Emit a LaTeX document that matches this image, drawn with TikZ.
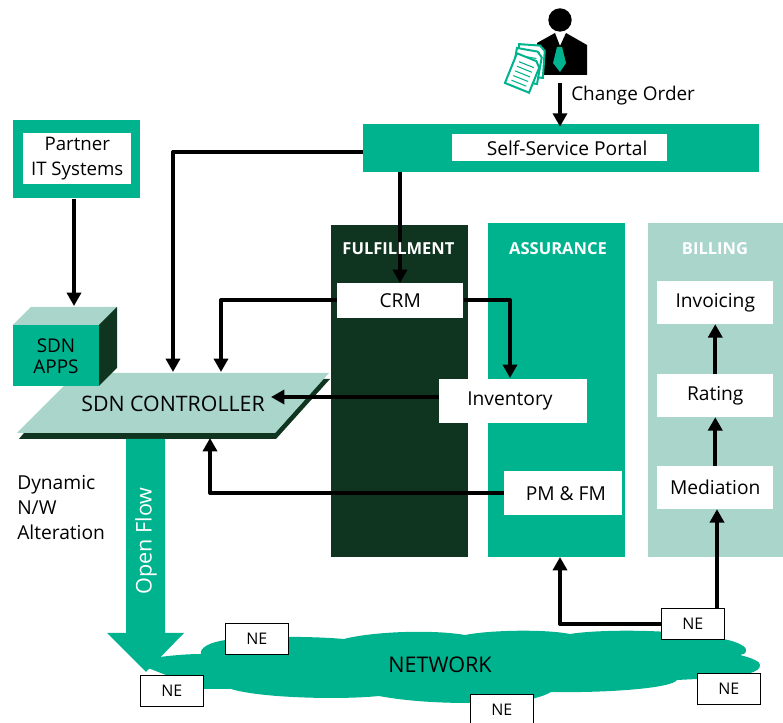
\documentclass[tikz,border=0pt]{standalone}
\usepackage{fontspec}
\setmainfont{Open Sans}
\usetikzlibrary{arrows.meta,calc,positioning}
\definecolor{grn}{HTML}{00B38F}
\definecolor{lgt}{HTML}{A9D5CA}
\definecolor{drk}{HTML}{0F3420}
\newcommand{\dn}[2]{\raisebox{-#1pt}{#2}}
\tikzset{
  x=0.75pt,y=-0.75pt,
  box/.style={anchor=north west,fill=white,inner sep=0pt,font=\fontsize{14.4pt}{17pt}\selectfont,align=center},
  nebox/.style={box,draw=black,line width=0.6pt,minimum width=47.25pt,minimum height=23.25pt,font=\fontsize{12pt}{14pt}\selectfont},
  panel/.style={anchor=north west,inner sep=0pt},
  head/.style={font=\fontsize{12.4pt}{14pt}\selectfont\bfseries,text=white},
  lbl/.style={font=\fontsize{14.2pt}{17pt}\selectfont,align=left,inner sep=0pt},
  conn/.style={line width=3pt,line join=round,-{Triangle[length=10pt,width=10.5pt]}},
}
\begin{document}
\begin{tikzpicture}
\useasboundingbox (0,0) rectangle (783,723);
% panels
\node[panel,fill=drk,minimum width=102.75pt,minimum height=249pt] (ful) at (331,225) {};
\node[panel,fill=grn,minimum width=102.75pt,minimum height=250.5pt] (ass) at (488,223) {};
\node[panel,fill=lgt,minimum width=101.25pt,minimum height=250.5pt] (bil) at (648,223) {};
% portal
\node[panel,fill=grn,minimum width=297pt,minimum height=36pt] (band) at (363,124) {};
\node[box,minimum width=161.25pt,minimum height=20.25pt] (portal) at (452,134) {\hspace*{11pt}Self-Service Portal};
% partner
\node[panel,fill=grn,minimum width=95.25pt,minimum height=58.5pt] (pout) at (13,120) {};
\node[box,minimum width=81pt,minimum height=38.25pt,font=\fontsize{14pt}{18.8pt}\selectfont] (partner) at (23,133) {Partner\\IT Systems};
% SDN controller
\fill[drk] (19,439) -- (24,433) -- (275,433) -- (323,379) -- (330,379) -- (276,439) -- cycle;
\fill[lgt] (17,433) -- (275,433) -- (329,373) -- (77,373) -- cycle;
\node[font=\fontsize{16pt}{19pt}\selectfont,inner sep=0pt] (ctrl) at (173,404) {SDN CONTROLLER};
\coordinate (ctrlR) at (271,397);
% apps cube
\fill[lgt] (13,325) -- (31,307) -- (117,307) -- (99,325) -- cycle;
\fill[drk] (99,325) -- (117,307) -- (117,368) -- (99,386) -- cycle;
\node[panel,fill=grn,minimum width=64.5pt,minimum height=45.75pt] (apps) at (13,325) {};
\node[font=\fontsize{14.2pt}{16pt}\selectfont,align=center,inner sep=0pt] at (56,356) {SDN\\APPS};
\coordinate (appsT) at (74,306);
% white inner boxes
\node[box,minimum width=94.5pt,minimum height=26.25pt] (crm) at (337,283) {\dn{0.75}{CRM}};
\node[box,minimum width=111pt,minimum height=33pt] (inv) at (439,379) {\dn{0.75}{\hspace*{-5pt}Inventory}};
\node[box,minimum width=88.5pt,minimum height=33pt] (pm) at (504,471) {\hspace*{4pt}PM \& FM};
\node[box,minimum width=87pt,minimum height=32pt] (invo) at (657,281) {\dn{1.5}{Invoicing}};
\node[box,minimum width=87pt,minimum height=32pt] (rat) at (657,374) {\dn{0.75}{Rating}};
\node[box,minimum width=87pt,minimum height=32pt] (med) at (657,466) {\raisebox{0.75pt}{Mediation}};
% open flow arrow
\fill[grn] (126,439) -- (165,439) -- (165,633) -- (184,633) -- (146,672) -- (107,633) -- (126,633) -- cycle;
\node[rotate=90,text=white,font=\fontsize{16.2pt}{19pt}\selectfont,inner sep=0pt] (of) at (146,541) {Open Flow};
% cloud
\fill[grn] (160,657) .. controls (175,655) and (190,654) .. (201,654)
 .. controls (199,648) and (210,642) .. (226,640)
 .. controls (250,636) and (310,636) .. (344,639)
 .. controls (370,632) and (430,629) .. (465,635)
 .. controls (490,630) and (545,629) .. (570,634)
 .. controls (600,629) and (680,629) .. (723,639)
 .. controls (740,642) and (748,648) .. (746,651)
 .. controls (746,653) and (743,655) .. (740,655)
 .. controls (752,658) and (761,662) .. (760,665)
 .. controls (760,672) and (750,676) .. (697,679)
 -- (677,680)
 .. controls (672,688) and (610,693) .. (551,692)
 .. controls (535,702) and (490,705) .. (470,703)
 .. controls (430,703) and (400,700) .. (379,696)
 .. controls (340,700) and (260,698) .. (231,689)
 -- (202,689) -- (148,668) -- cycle;
\node[font=\fontsize{16.2pt}{19pt}\selectfont,inner sep=0pt] (net) at (440,665) {NETWORK};
% NE boxes
\node[nebox] (ne1) at (225,623) {NE};
\node[nebox] (ne2) at (140,675) {NE};
\node[nebox] (ne3) at (470,694) {NE};
\node[nebox] (ne4) at (661,608) {NE};
\node[nebox] (ne5) at (697,673) {NE};
% person
\fill[black] (560,20) circle (11.7);
\fill[black] (537,43) -- (555,33) -- (560,46) -- (566,33) -- (587,45) -- (587,75) -- (540,75) -- cycle;
\fill[grn] (557,47) -- (562,47) -- (566,63) -- (560,72) -- (553,63) -- cycle;
\foreach \px/\py/\r in {531/61/-4,527/66/-10,523/73/-22}{
 \begin{scope}[shift={(\px,\py)},rotate=\r]
  \filldraw[fill=white,draw=grn,line width=1.5pt] (-13,-16) -- (8,-16) -- (13,-11) -- (13,16) -- (-13,16) -- cycle;
  \foreach \yy in {-9,-4,1,6,11}{\draw[grn,line width=0.8pt] (-8,\yy) -- (8,\yy);}
 \end{scope}}
\node[lbl,anchor=west] (co) at (571,96) {Change Order};
\coordinate (pers) at (560,83);
% connectors
\draw[conn,shorten >=-2pt] (pers) -- (pers |- band.north);
\draw[conn] (pout.south -| appsT) -- (appsT);
\coordinate (bandL) at (363,152);
\coordinate (cA) at (173,372);
\draw[conn] (bandL) -| (cA);
\coordinate (cB) at (221,372);
\draw[conn] (crm.west |- 0,300) -| (cB);
\coordinate (bandB) at (400,172);
\draw[conn] (bandB) -- (bandB |- crm.north);
\coordinate (iT) at (510,378);
\draw[conn] (crm.east |- 0,300) -| (iT);
\draw[conn] (inv.west |- ctrlR) -- (ctrlR);
\coordinate (cC) at (210,438);
\draw[conn] (pm.west |- 0,493) -| (cC);
\draw[conn] (med.north) -- (rat.south);
\draw[conn] (rat.north) -- (invo.south);
\coordinate (neL) at (661,624);
\coordinate (assB) at (560,557);
\draw[conn] (neL) -| (assB);
\coordinate (neT) at (717,608);
\draw[conn] (neT) -- (neT |- med.south);
% headings sit over the connector
\node[head] (hf) at (398.5,249) {FULFILLMENT};
\node[head] (ha) at (558,249) {ASSURANCE};
\node[head] (hb) at (715,249) {BILLING};
\node[lbl,anchor=north west,font=\fontsize{14.4pt}{18.75pt}\selectfont] (dyn) at (17,475) {Dynamic\\N/W\\Alteration};
\end{tikzpicture}
\end{document}
